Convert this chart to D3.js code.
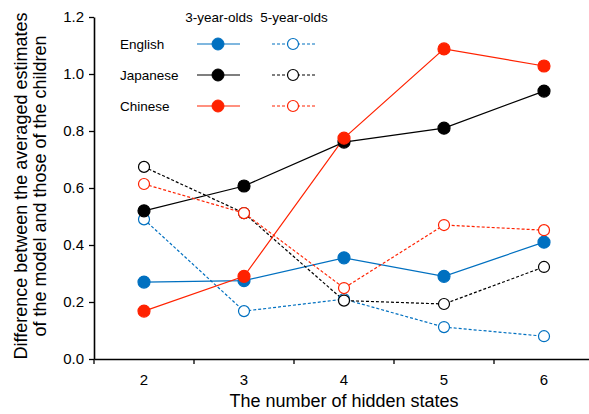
<!DOCTYPE html>
<html><head><meta charset="utf-8">
<script src="https://cdn.jsdelivr.net/npm/d3@7"></script>
<style>body{margin:0;background:#fff}text{font-family:"Liberation Sans",Arial,sans-serif;fill:#000}</style>
</head><body><svg id="c" width="589" height="414"></svg>
<script>
const categories = ["2","3","4","5","6"];
const yTicks = [0,0.2,0.4,0.6,0.8,1.0,1.2];
const languages = ["English","Japanese","Chinese"];
const colors = {English:"#0070C0", Japanese:"#000000", Chinese:"#FF2200"};
const english3 = [0.27,0.275,0.355,0.29,0.41];
const english5 = [0.49,0.168,0.21,0.112,0.08];
const japanese3 = [0.52,0.607,0.761,0.81,0.94];
const japanese5 = [0.674,0.512,0.205,0.193,0.323];
const chinese3 = [0.168,0.29,0.775,1.088,1.028];
const chinese5 = [0.614,0.512,0.249,0.47,0.452];

const series = [
  {lang:"English", age:3, values:english3},
  {lang:"English", age:5, values:english5},
  {lang:"Japanese", age:3, values:japanese3},
  {lang:"Japanese", age:5, values:japanese5},
  {lang:"Chinese", age:3, values:chinese3},
  {lang:"Chinese", age:5, values:chinese5}
];

const svg = d3.select("#c");
const x = d3.scaleBand().domain(categories).range([94,594]);
const y = d3.scaleLinear().domain([0,1.2]).range([359,17]);

// axes
const ya = svg.append("g").attr("transform","translate(94,0)")
  .call(d3.axisLeft(y).tickValues(yTicks).tickFormat(d3.format(".1f")).tickSize(5).tickSizeOuter(0));
const xa = svg.append("g").attr("transform","translate(0,359)")
  .call(d3.axisBottom(x).tickSize(0).tickPadding(15));
xa.selectAll(".tick line").remove();
// band boundary ticks
svg.append("g").selectAll("line").data(d3.range(0,categories.length+1)).join("line")
  .attr("x1",i=>94+i*x.bandwidth()).attr("x2",i=>94+i*x.bandwidth())
  .attr("y1",359).attr("y2",364).attr("stroke","#000").attr("stroke-width",1.3);
[ya,xa].forEach(a=>{
  a.selectAll("text").style("font-size","15px").style("font-family","Liberation Sans, Arial, sans-serif").attr("fill","#000");
  a.selectAll(".domain").attr("stroke-width",1.6);
  a.selectAll(".tick line").attr("stroke-width",1.3);
});
ya.selectAll("text").attr("x",-10);

// axis titles
svg.append("text").attr("x",344).attr("y",407).attr("text-anchor","middle").style("font-size","18px").text("The number of hidden states");
const yt = svg.append("text").attr("transform","translate(0,186) rotate(-90)").attr("text-anchor","middle").style("font-size","18px");
yt.append("tspan").attr("x",0).attr("y",27).text("Difference between the averaged estimates");
yt.append("tspan").attr("x",0).attr("y",46).text("of the model and those of the children");

// lines
const line = d3.line().x((d,i)=>x(categories[i])+x.bandwidth()/2).y(d=>y(d));
series.forEach(s=>{
  const c = colors[s.lang];
  svg.append("path").datum(s.values).attr("d",line).attr("fill","none").attr("stroke",c)
    .attr("stroke-width",1.2).attr("stroke-dasharray",s.age===5?"3,2":null);
});
series.forEach(s=>{
  const c = colors[s.lang];
  svg.append("g").selectAll("circle").data(s.values).join("circle")
    .attr("cx",(d,i)=>x(categories[i])+x.bandwidth()/2).attr("cy",d=>y(d)).attr("r",s.age===5?5.5:6)
    .attr("fill",s.age===5?"#fff":c).attr("stroke",c).attr("stroke-width",1.2);
});

// legend
svg.append("text").attr("x",219).attr("y",22).attr("text-anchor","middle").style("font-size","13.5px").text("3-year-olds");
svg.append("text").attr("x",294).attr("y",22).attr("text-anchor","middle").style("font-size","13.5px").text("5-year-olds");
const ly = [44,75,106];
languages.forEach((l,i)=>{
  const c = colors[l];
  svg.append("text").attr("x",120).attr("y",ly[i]+5).style("font-size","13.5px").text(l);
  svg.append("line").attr("x1",197).attr("x2",240).attr("y1",ly[i]).attr("y2",ly[i]).attr("stroke",c).attr("stroke-width",1.2);
  svg.append("circle").attr("cx",218).attr("cy",ly[i]).attr("r",6).attr("fill",c).attr("stroke",c);
  svg.append("line").attr("x1",272).attr("x2",315).attr("y1",ly[i]).attr("y2",ly[i]).attr("stroke",c).attr("stroke-width",1.2).attr("stroke-dasharray","3,2");
  svg.append("circle").attr("cx",293).attr("cy",ly[i]).attr("r",5.5).attr("fill","#fff").attr("stroke",c).attr("stroke-width",1.2);
});
</script></body></html>
